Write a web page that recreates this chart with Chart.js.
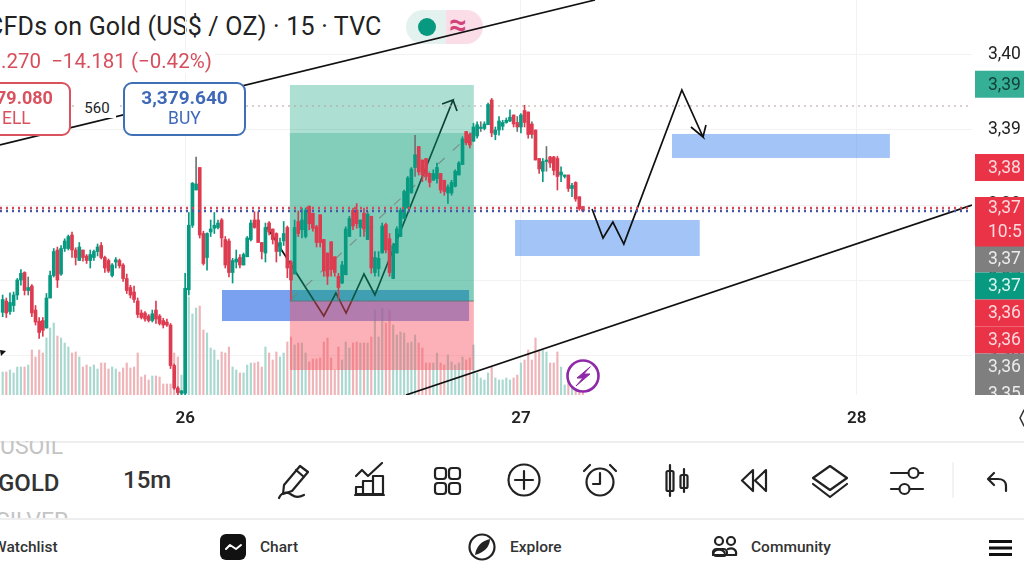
<!DOCTYPE html>
<html>
<head>
<meta charset="utf-8">
<title>Gold 15m</title>
<script src="https://cdn.jsdelivr.net/npm/chart.js@4"></script>
<style>
html, body { margin: 0; padding: 0; background: #fff; }
body { width: 1024px; height: 576px; position: relative; overflow: hidden; font-family: Roboto, sans-serif; color: #222; }
.abs { position: absolute; white-space: nowrap; line-height: 1; }
#chartCanvas { position: absolute; left: 0; top: 0; z-index: 1; }
#icons { position: absolute; left: 0; top: 0; z-index: 3; }
.order { background: #fff; border-radius: 9px; box-sizing: border-box; height: 54px; top: 82px; z-index: 2; }
.panel { left: 0; top: 441px; width: 1024px; height: 135px; background: #fff; z-index: 2; overflow: hidden; }
</style>
</head>
<body>
<div class="abs" style="left:-13px;top:14px;font-size:25px;letter-spacing:0.22px;color:#222">CFDs on Gold (US$ / OZ) · 15 · TVC</div>
<div class="abs" style="left:0;top:50px;padding:1px 3px 1px 1px;background:#fff;font-size:20.5px;color:#d64f5c;z-index:2">.270&nbsp; −14.181 (−0.42%)</div>
<div class="abs" style="left:406px;top:10px;width:40px;height:34px;background:#e3f2ef;border-radius:17px 0 0 17px"></div>
<div class="abs" style="left:446px;top:10px;width:37px;height:34px;background:#fadde6;border-radius:0 17px 17px 0"></div>
<div class="abs" style="left:418px;top:18px;width:18px;height:18px;background:#089981;border-radius:50%"></div>
<div class="abs" style="left:449px;top:9px;font-size:31px;font-weight:700;color:#d4427a">≈</div>

<canvas id="chartCanvas" width="1024" height="440"></canvas>

<div class="abs order" style="left:-12px;width:83px;border:2px solid #d9525e"></div>
<div class="abs" style="left:-4px;top:89px;font-size:18px;font-weight:700;color:#d9525e;z-index:3">79.080</div>
<div class="abs" style="left:2px;top:110px;font-size:17.5px;color:#d9525e;z-index:3">ELL</div>
<div class="abs" style="left:78px;top:99px;width:38px;text-align:center;background:#fff;font-size:15px;color:#222;padding:2px 0;z-index:2">560</div>
<div class="abs order" style="left:123px;width:123px;border:2px solid #3f6fb5"></div>
<div class="abs" style="left:123px;top:88px;width:123px;text-align:center;font-size:19px;font-weight:700;color:#3f69b8;z-index:3">3,379.640</div>
<div class="abs" style="left:123px;top:110px;width:123px;text-align:center;font-size:17.5px;color:#3f69b8;z-index:3">BUY</div>

<div class="abs panel">
  <div class="abs" style="left:0;top:0;width:1024px;height:1.5px;background:#eee"></div>
  <div class="abs" style="left:0;top:-6px;font-size:23px;color:#c4c4c4">USOIL</div>
  <div class="abs" style="left:-2px;top:30px;font-size:24px;font-weight:500;color:#333">GOLD</div>
  <div class="abs" style="left:-4px;top:69px;font-size:23px;color:#c4c4c4">SILVER</div>
  <div class="abs" style="left:123px;top:27px;font-size:24px;font-weight:500;color:#333">15m</div>
  <div class="abs" style="left:0;top:77px;width:1024px;height:58px;background:#fff"></div>
  <div class="abs" style="left:0;top:77px;width:1024px;height:1.5px;background:#eee"></div>
  <div class="abs" style="left:-7px;top:99px;font-size:15.5px;font-weight:500;color:#333">Watchlist</div>
  <div class="abs" style="left:260px;top:99px;font-size:15.5px;font-weight:500;color:#333">Chart</div>
  <div class="abs" style="left:510px;top:99px;font-size:15.5px;font-weight:500;color:#333">Explore</div>
  <div class="abs" style="left:751px;top:99px;font-size:15.5px;font-weight:500;color:#333">Community</div>
</div>

<svg id="icons" width="1024" height="576" fill="none" stroke="#222" stroke-width="2.2" stroke-linecap="round" stroke-linejoin="round">
  <!-- replay badge on the chart -->
  <circle cx="583" cy="376" r="15.5" fill="#fff" stroke="#8e2aa8" stroke-width="2.6"/>
  <path d="M590 367 L577 378 L583 378 L576 386 L590 374 L584 374 Z" fill="#8e2aa8" stroke="#8e2aa8" stroke-width="1"/>
  <path d="M0 350 L6 351 L1 356 Z" fill="#111" stroke="none"/>
  <path d="M1024 410 L1020 418 L1024 426" stroke="#333" stroke-width="1.6"/>
  <!-- toolbar -->
  <path d="M300 466 L308 472 L292 491 L283 494 L284 485 Z M296 470 L304 477"/>
  <path d="M279 498 C282 491 288 492 292 495 C296 498 300 497 304 495"/>
  <path d="M356 476 L362 470 L368 476 L382 463"/>
  <path d="M356 494 V487 H363 V494 Z M363 494 V481 H373 V494 Z M373 494 V476 H383 V494 Z M355 495 H384"/>
  <rect x="435" y="468" width="11" height="11" rx="3"/><rect x="449" y="468" width="11" height="11" rx="3"/>
  <rect x="435" y="483" width="11" height="11" rx="3"/><rect x="449" y="483" width="11" height="11" rx="3"/>
  <circle cx="524" cy="480" r="15.5"/><path d="M524 471 V489 M515 480 H533"/>
  <circle cx="600" cy="482" r="13.5"/><path d="M600 473 V484 H593 M584 471 L590 465 M616 471 L610 465"/>
  <path d="M670 465 V496 M684 469 V492"/><rect x="666.5" y="471" width="7" height="20" rx="1.5"/><rect x="680.5" y="475" width="7" height="13" rx="1.5"/>
  <path d="M753 470 L742 480.5 L753 491 Z M766 470 L755 480.5 L766 491 Z"/>
  <path d="M830 466 L847 478 L830 490 L813 478 Z M813 484 L830 497 L847 484"/>
  <path d="M891 473 H908 M919 473 H923 M891 489 H899 M910 489 H923"/><circle cx="913.5" cy="473" r="5"/><circle cx="904.5" cy="489" r="5"/>
  <path d="M953 463 V497" stroke="#eee" stroke-width="1.5"/>
  <path d="M1006 491 V486 C1006 481 1002 479 998 479 H989 M994 473 L988 479 L994 485"/>
  <!-- bottom nav -->
  <rect x="220" y="534" width="26" height="26" rx="6" fill="#111" stroke="none"/>
  <path d="M226 549 L230 545 L236 549 L241 545" stroke="#fff" stroke-width="2"/>
  <circle cx="482" cy="547" r="12.5"/>
  <path d="M490 539 C490 545 486 552 475 555 C476 547 481 541 490 539 Z" fill="#222" stroke="none"/>
  <circle cx="719" cy="541" r="4"/><circle cx="731" cy="541" r="4"/>
  <path d="M713 555 C712 548 726 548 725 555 Z"/><rect x="713" y="549" width="14" height="7" rx="3.5"/><path d="M728 549 C733 547 737 550 736 555 H727"/>
  <path d="M989 541.5 H1012 M989 548 H1012 M989 554.5 H1012" stroke="#111" stroke-width="3.2" stroke-linecap="butt"/>
</svg>

<script>
// 15m candles (price)
const opens = [
    3365.7,3367.2,3365.8,3366.6,3368.0,3370.0,3371.0,3368.6,3369.2,3366.0,
    3364.5,3364.6,3363.6,3367.6,3370.6,3374.0,3370.8,3374.2,3374.2,3376.0,
    3374.0,3372.6,3374.0,3373.2,3372.6,3373.0,3373.8,3374.6,3373.0,3372.6,
    3370.6,3372.4,3372.6,3372.0,3370.2,3369.0,3368.4,3367.2,3365.6,3365.6,
    3365.2,3364.6,3366.0,3365.2,3364.6,3364.4,3364.0,3358.6,3355.6,3354.9,
    3354.9,3368.7,3377.3,3382.0,3385.0,3376.2,3373.0,3376.4,3376.9,3377.0,
    3378.0,3375.4,3375.2,3371.0,3372.4,3373.0,3372.0,3373.1,3375.4,3378.0,
    3378.0,3375.0,3373.6,3377.6,3376.8,3376.2,3373.8,3375.2,3377.0,3372.4,
    3370.8,3377.8,3376.7,3375.8,3379.8,3378.9,3377.1,3378.7,3375.4,3373.6,
    3375.1,3373.1,3370.5,3369.6,3370.7,3375.8,3379.3,3379.3,3377.0,3378.9,
    3375.4,3378.5,3371.0,3371.5,3373.6,3377.4,3375.5,3370.2,3373.6,3375.8,
    3378.2,3379.6,3381.6,3385.0,3387.8,3386.0,3386.2,3384.2,3383.3,3383.5,
    3384.2,3383.3,3381.6,3381.6,3382.5,3384.0,3385.4,3389.8,3389.4,3388.5,
    3389.2,3390.2,3390.2,3390.7,3394.0,3389.4,3390.0,3390.5,3391.0,3391.2,
    3392.0,3391.0,3390.4,3392.6,3392.4,3390.8,3390.0,3386.2,3384.5,3385.8,
    3386.4,3386.4,3386.2,3384.0,3383.8,3384.0,3382.2,3383.0,3381.1,3379.8
];
const highs = [
    3368.0,3367.6,3368.3,3368.4,3370.2,3371.4,3371.1,3370.4,3369.4,3366.6,
    3365.0,3365.0,3368.2,3371.2,3374.2,3374.4,3374.6,3375.5,3376.0,3376.4,
    3374.3,3375.0,3374.0,3373.4,3374.0,3374.0,3374.8,3375.0,3373.2,3372.8,
    3372.2,3373.0,3372.8,3372.2,3370.8,3369.3,3369.2,3367.6,3366.0,3365.8,
    3365.4,3366.0,3367.2,3365.4,3364.9,3364.8,3364.2,3358.8,3355.8,3355.3,
    3370.9,3379.0,3383.0,3386.4,3385.0,3376.5,3376.3,3378.0,3379.0,3378.0,
    3378.2,3375.8,3375.5,3372.9,3374.0,3373.4,3373.6,3375.8,3378.0,3379.1,
    3379.1,3375.0,3377.6,3377.8,3376.8,3376.3,3375.6,3377.8,3377.2,3372.6,
    3378.0,3379.2,3379.6,3379.6,3379.9,3378.9,3377.3,3378.7,3375.4,3373.6,
    3375.1,3373.1,3370.9,3372.5,3377.1,3378.5,3379.6,3380.2,3378.0,3379.6,
    3379.1,3378.5,3373.8,3373.8,3377.6,3377.6,3376.2,3374.9,3377.1,3379.6,
    3382.0,3383.8,3385.0,3389.3,3387.8,3386.0,3386.2,3384.2,3384.7,3385.6,
    3384.2,3383.3,3382.7,3383.3,3384.7,3385.8,3389.1,3389.8,3389.6,3390.9,
    3391.1,3391.1,3391.1,3393.6,3394.2,3390.4,3391.8,3391.3,3391.6,3392.7,
    3392.0,3391.8,3392.2,3393.3,3392.4,3391.1,3390.0,3386.2,3386.2,3387.8,
    3386.5,3386.5,3386.5,3385.1,3384.0,3384.0,3382.9,3383.1,3381.1,3379.8
];
const lows = [
    3365.1,3365.0,3365.4,3365.8,3367.4,3369.3,3368.0,3368.0,3365.1,3364.0,
    3362.2,3362.5,3363.6,3367.6,3370.4,3369.0,3370.6,3373.8,3374.0,3373.0,
    3372.0,3372.6,3372.5,3372.2,3371.6,3372.6,3373.2,3372.8,3371.0,3371.0,
    3370.4,3371.6,3371.6,3369.8,3368.2,3367.6,3367.0,3365.0,3364.8,3364.5,
    3364.4,3364.4,3364.2,3364.0,3363.6,3363.8,3358.2,3355.4,3354.7,3354.7,
    3354.7,3368.0,3377.0,3382.0,3375.6,3372.0,3371.3,3375.8,3376.2,3376.8,
    3374.4,3371.6,3370.4,3369.6,3371.6,3371.6,3372.0,3373.1,3375.2,3376.9,
    3375.0,3372.8,3372.4,3376.0,3374.8,3372.4,3373.2,3374.6,3370.3,3367.3,
    3370.8,3375.8,3375.6,3375.6,3376.7,3376.5,3374.4,3374.4,3370.5,3369.4,
    3370.5,3370.5,3367.4,3369.5,3370.7,3375.8,3376.7,3376.9,3375.8,3375.8,
    3375.4,3370.9,3370.5,3370.5,3373.6,3373.6,3370.5,3370.2,3373.6,3375.8,
    3378.2,3379.6,3381.6,3383.8,3384.0,3383.1,3383.3,3382.4,3383.3,3382.9,
    3381.6,3381.3,3380.2,3381.3,3382.4,3384.0,3385.4,3388.0,3387.6,3388.5,
    3388.9,3389.8,3390.0,3390.7,3389.1,3388.7,3389.3,3390.0,3390.9,3391.1,
    3390.4,3389.8,3389.6,3390.4,3388.9,3388.9,3386.0,3384.2,3383.1,3384.5,
    3385.0,3384.0,3382.0,3383.1,3383.6,3381.8,3381.1,3380.5,3379.3,3379.1
];
const closes = [
    3367.4,3365.6,3367.0,3368.0,3370.0,3370.9,3368.6,3369.0,3365.6,3364.4,
    3363.0,3363.3,3367.6,3370.6,3373.8,3370.0,3374.2,3375.2,3375.8,3374.0,
    3373.0,3374.4,3373.0,3372.6,3373.4,3373.8,3374.4,3373.0,3371.6,3371.2,
    3372.0,3372.7,3371.9,3370.2,3368.6,3368.0,3367.4,3365.4,3365.0,3364.8,
    3364.6,3365.5,3364.8,3364.2,3364.0,3364.0,3358.6,3355.6,3355.0,3355.2,
    3368.9,3377.3,3382.9,3382.8,3376.0,3372.2,3376.2,3376.8,3377.3,3377.6,
    3375.6,3372.0,3371.0,3372.6,3372.8,3372.0,3373.4,3375.6,3377.6,3377.0,
    3375.0,3373.8,3377.0,3376.4,3375.4,3373.8,3375.0,3376.2,3371.6,3370.0,
    3377.0,3376.2,3378.0,3379.3,3377.5,3376.9,3375.0,3375.0,3371.2,3370.5,
    3371.4,3371.0,3369.0,3372.0,3376.8,3378.2,3377.2,3377.5,3378.0,3376.8,
    3378.8,3371.6,3373.0,3372.9,3377.2,3374.0,3371.0,3374.6,3376.8,3379.3,
    3381.8,3383.6,3384.8,3386.7,3384.4,3384.0,3383.8,3383.0,3384.2,3385.0,
    3382.0,3381.8,3382.4,3383.0,3384.5,3385.6,3388.8,3388.3,3388.0,3390.4,
    3390.7,3390.4,3390.8,3393.4,3389.6,3390.0,3391.2,3391.0,3391.3,3391.7,
    3390.8,3390.4,3392.0,3391.0,3389.4,3389.4,3386.0,3384.8,3385.8,3386.0,
    3385.6,3384.6,3383.8,3384.4,3384.0,3382.2,3382.6,3380.8,3379.5,3379.2
];
const volumes = [
    23,23,25,22,28,28,28,30,45,38,
    45,42,57,67,72,59,57,52,48,42,
    43,38,28,30,28,30,26,32,32,26,
    28,26,23,27,32,27,28,42,18,20,
    15,19,19,18,11,11,11,42,38,20,
    98,98,81,87,89,65,62,47,45,35,
    43,42,48,28,25,22,22,30,32,32,
    33,28,48,42,35,43,38,42,53,58,
    50,52,52,42,33,36,36,37,53,57,
    37,25,48,35,53,47,52,53,52,52,
    52,58,85,58,87,72,85,70,60,63,
    62,52,53,60,52,47,32,32,32,42,
    32,30,40,33,30,32,38,35,37,50,
    22,17,15,22,28,17,15,15,17,15,
    17,20,32,35,45,35,57,45,45,43,
    32,32,43,28,10,13,8,7,5,3
];
const grayWicks = [7, 53, 100, 113, 131, 141, 145, 149];

// axes
const dayTicks = [50, 142, 234];
const dayLabels = ['26', '27', '28'];
const priceTicks = [3400, 3390, 3380, 3370, 3360];
const priceTickLabels = ['3,40', '3,39', '3,38', '3,37', '3,36'];

// price tags on the right edge
const tagPrices = [3396.1, 3385, 3372.8, 3369.2, 3365.6, 3362, 3358.4, 3354.9];
const tagLabels = ['3,39', '3,38', '3,37', '3,37', '3,36', '3,36', '3,36', '3,35'];
const tagKinds = ['up', 'down', 'gray', 'upDark', 'down', 'down', 'gray', 'gray'];
const lastPrice = 3379.4;
const lastPriceLabels = ['3,37', '10:5'];

// drawings, in bar index / price
const stopZone = [78.7, 129.1, 3367.2, 3358];
const targetZone = [78.7, 129.1, 3389.6, 3367.2];
const targetTopZone = [78.7, 129.1, 3396, 3389.6];
const demandBox = [60.1, 127.8, 3368.67, 3364.53];
const lowerBox = [140.4, 191, 3378, 3373.2];
const upperBox = [183.4, 243.1, 3389.47, 3386.27];

const zigzagX = [72.4, 88, 91.3, 94.1, 99, 102, 123.4, 120.4, 123.4, 124.5];
const zigzagY = [3377.07, 3365.2, 3368.27, 3365.6, 3370.8, 3368, 3394, 3393.47, 3394, 3392.53];
const forecastX = [161.5, 164.5, 167.2, 170.2, 186.1, 191.9, 188.6, 191.9, 192.7];
const forecastY = [3379.47, 3375.6, 3377.73, 3374.8, 3395.33, 3389.07, 3390.4, 3389.07, 3390.67];
const channelTopX = [-0.73, 162.3];
const channelTopY = [3388, 3407.33];
const channelBottomX = [110.5, 265.6];
const channelBottomY = [3354.67, 3380];
const midLineX = [79, 129];
const midLineY = [3367.4, 3389.8];
const entryLineX = [78.7, 129.1];
const entryLineY = [3367.2, 3367.2];
const lineEnds = [-0.73, 265.6];
const sellLevel = 3379.2;
const buyLevel = 3379.6;
const highLevel = 3393.2;

const GREEN = '#089981';
const RED = '#dd3c50';
const barIndex = opens.map((o, i) => i);
const isUp = barIndex.map(i => closes[i] >= opens[i]);

function toPoints(xs, ys) {
    return xs.map((x, i) => ({ x: x, y: ys[i] }));
}

function lineDataset(xs, ys, color, width, order, dash) {
    return {
        type: 'scatter',
        showLine: true,
        data: toPoints(xs, ys),
        borderColor: color,
        borderWidth: width,
        borderDash: dash || [],
        pointRadius: 0,
        order: order,
        yAxisID: 'y'
    };
}

function levelDataset(price, color, width, order, dash) {
    return lineDataset(lineEnds, [price, price], color, width, order, dash);
}

function fillZone(chart, zone, color) {
    const { x, y } = chart.scales;
    const left = x.getPixelForValue(zone[0]);
    const right = x.getPixelForValue(zone[1]);
    const top = y.getPixelForValue(zone[2]);
    const bottom = y.getPixelForValue(zone[3]);
    chart.ctx.fillStyle = color;
    chart.ctx.fillRect(left, top, right - left, bottom - top);
}

// zones sit between the datasets: blue boxes over volume, position tool over the zigzag
const zonesPlugin = {
    id: 'zones',
    afterDatasetDraw(chart, args) {
        const name = chart.data.datasets[args.index].label;
        if (name === 'Volume') {
            fillZone(chart, demandBox, 'rgba(50,110,230,0.65)');
            fillZone(chart, lowerBox, 'rgba(60,130,235,0.47)');
            fillZone(chart, upperBox, 'rgba(60,130,235,0.47)');
        }
        if (name === 'Zigzag') {
            fillZone(chart, stopZone, 'rgba(247,82,95,0.45)');
            fillZone(chart, targetZone, 'rgba(8,158,120,0.5)');
            fillZone(chart, targetTopZone, 'rgba(8,158,120,0.33)');
        }
    }
};

const tagColors = { up: '#35b096', upDark: '#089981', down: '#eb3348', gray: '#7f7f7f' };
const tagText = { up: '#123f36', upDark: '#d8f5ee', down: '#fbd9dc', gray: '#ececec' };

const tagsPlugin = {
    id: 'priceTags',
    afterDraw(chart) {
        const ctx = chart.ctx;
        const y = chart.scales.y;
        const tagLeft = chart.chartArea.right + 3;
        ctx.save();
        ctx.beginPath();
        ctx.rect(tagLeft, 0, 1024 - tagLeft, chart.chartArea.bottom);
        ctx.clip();
        ctx.textBaseline = 'middle';
        ctx.font = '17.5px Roboto';
        tagPrices.forEach((price, i) => {
            const py = y.getPixelForValue(price);
            ctx.fillStyle = tagColors[tagKinds[i]];
            ctx.fillRect(tagLeft, py - 13.5, 1024 - tagLeft, 27);
            ctx.fillStyle = tagText[tagKinds[i]];
            ctx.fillText(tagLabels[i], 988, py + 1);
        });
        const py = y.getPixelForValue(lastPrice);
        ctx.fillStyle = tagColors.down;
        ctx.fillRect(tagLeft, py - 12.5, 1024 - tagLeft, 49.5);
        ctx.fillStyle = tagText.down;
        ctx.fillText(lastPriceLabels[0], 988, py - 1);
        ctx.fillText(lastPriceLabels[1], 988, py + 23);
        ctx.restore();
    }
};

const ctx = document.getElementById('chartCanvas').getContext('2d');
new Chart(ctx, {
    data: {
        datasets: [
            {
                type: 'bar',
                label: 'Volume',
                data: toPoints(barIndex, volumes),
                backgroundColor: barIndex.map(i => isUp[i] ? '#a8d8cf' : '#efb4b8'),
                barThickness: 1.5,
                grouped: false,
                order: 6,
                yAxisID: 'yVolume'
            },
            Object.assign(lineDataset(zigzagX, zigzagY, '#111', 1.7, 5), { label: 'Zigzag' }),
            lineDataset(midLineX, midLineY, 'rgba(120,125,120,0.75)', 1.2, 4, [9, 11]),
            lineDataset(entryLineX, entryLineY, 'rgba(90,110,105,0.8)', 1, 4),
            levelDataset(highLevel, '#b5a0a0', 1.2, 3, [2, 4]),
            {
                type: 'bar',
                label: 'Wicks',
                data: barIndex.map(i => ({ x: i, y: [lows[i], highs[i]] })),
                backgroundColor: barIndex.map(i => grayWicks.includes(i) ? '#6e7472' : (isUp[i] ? GREEN : RED)),
                barThickness: 1,
                grouped: false,
                order: 2,
                yAxisID: 'y'
            },
            {
                type: 'bar',
                label: 'Bodies',
                data: barIndex.map(i => ({ x: i, y: [opens[i], closes[i]] })),
                backgroundColor: barIndex.map(i => isUp[i] ? GREEN : RED),
                barThickness: 3,
                grouped: false,
                order: 1,
                yAxisID: 'y'
            },
            levelDataset(buyLevel, '#d4485c', 2.5, 0, [2, 4]),
            levelDataset(sellLevel, '#4a55a8', 2.5, 0, [2, 4]),
            lineDataset(forecastX, forecastY, '#111', 1.7, 0),
            lineDataset(channelTopX, channelTopY, '#111', 1.7, 0),
            lineDataset(channelBottomX, channelBottomY, '#111', 1.7, 0)
        ]
    },
    options: {
        responsive: false,
        animation: false,
        devicePixelRatio: 1,
        layout: { padding: 0 },
        plugins: { legend: { display: false }, tooltip: { enabled: false } },
        scales: {
            x: {
                type: 'linear',
                offset: false,
                min: -0.73,
                max: 265.6,
                afterBuildTicks(scale) {
                    scale.ticks = dayTicks.map(v => ({ value: v }));
                },
                afterFit(scale) {
                    scale.height = 45;
                    scale.paddingLeft = 0;
                    scale.paddingRight = 0;
                },
                border: { display: false },
                grid: { color: '#f2f2f2', drawTicks: false, offset: false },
                ticks: {
                    autoSkip: false,
                    maxRotation: 0,
                    padding: 14,
                    color: '#222',
                    font: { family: 'Roboto', size: 17, weight: '600' },
                    callback: value => dayLabels[dayTicks.indexOf(value)]
                }
            },
            y: {
                type: 'linear',
                position: 'right',
                min: 3354.67,
                max: 3407.33,
                afterBuildTicks(scale) {
                    scale.ticks = priceTicks.map(v => ({ value: v }));
                },
                afterFit(scale) {
                    scale.width = 52;
                    scale.paddingTop = 0;
                    scale.paddingBottom = 0;
                },
                border: { display: false },
                grid: { color: '#f2f2f2', drawTicks: false },
                ticks: {
                    padding: 16,
                    color: '#222',
                    font: { family: 'Roboto', size: 17.5 },
                    callback: value => priceTickLabels[priceTicks.indexOf(value)]
                }
            },
            yVolume: {
                type: 'linear',
                display: false,
                min: 0,
                max: 395
            }
        }
    },
    plugins: [zonesPlugin, tagsPlugin]
});
</script>
</body>
</html>
